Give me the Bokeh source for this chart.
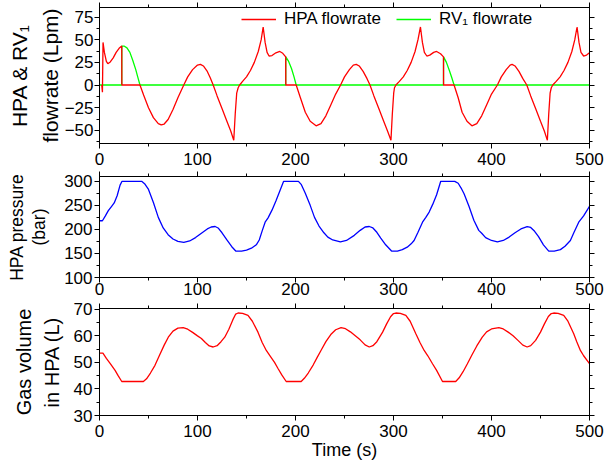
from bokeh.plotting import figure
from bokeh.models import (LinearAxis, Range1d, SingleIntervalTicker, Title,
                          Legend, LegendItem)
from bokeh.layouts import column
from bokeh.embed import file_html
from bokeh.resources import INLINE

# ---------------- data ----------------
x_ticks_interval = 100

# HPA flowrate (Lpm)
t_hpa = [
    2.3, 3.0, 3.6, 5, 7, 8.5, 11, 14, 17, 20,
    22.7, 22.8, 41.3, 45, 50, 55, 60, 63, 66, 70,
    75, 80, 86, 90, 95, 100, 103, 106, 110, 113,
    116, 120, 125, 130, 134, 137, 138.5, 140, 141.5, 143,
    146, 150, 154, 158, 162, 165, 167, 169, 171, 173,
    176, 180, 184, 187, 190, 190.1, 200.7, 205, 210, 215,
    221, 226, 231, 236, 241, 246, 250, 255, 259, 262,
    265, 269, 273, 276, 280, 285, 290, 294, 297.4, 298.8,
    300.2, 301, 302.5, 306, 310, 314, 318, 322, 325, 327.5,
    329.5, 331.5, 334, 337, 341, 344, 348, 351, 351.1, 361.8,
    366, 370, 375, 380, 385, 390, 395, 400, 406, 410,
    415, 419, 421, 424, 428, 432, 436, 440, 445, 450,
    454, 457, 458.4, 459.8, 461, 462.5, 466, 470, 474, 478,
    482, 485, 487.3, 489.3, 491.3, 494, 497, 500]
q_hpa = [
    0, -8, 47, 36, 26, 23.5, 25.5, 30, 36, 40.5,
    43, 0, 0, -11, -25, -36, -42.5, -44, -43, -38,
    -27, -14, 0, 9, 17, 22, 22.8, 21, 15, 8,
    0, -12, -26, -40, -51, -61, -32, -9, -3, 0,
    4, 9, 16, 25, 37, 50, 64, 47, 36, 32,
    32.5, 35.5, 37, 35, 31, 0, 0, -14, -30, -40,
    -45, -42.5, -34, -22, -10, 0, 9, 17, 22, 22.8,
    21, 15, 7, 0, -12, -26, -40, -51, -61, -32,
    -9, -3, 0, 4, 9, 16, 25, 37, 50, 64,
    47, 36, 32, 33, 36, 37, 34.5, 31, 0, 0,
    -14, -30, -40, -45, -42.5, -34, -22, -10, 0, 9,
    17, 22, 22.8, 21, 15, 7, 0, -12, -26, -40,
    -51, -61, -32, -9, -3, 0, 4, 9, 16, 25,
    37, 50, 64, 47, 36, 32, 33, 35.6]

# RV1 flowrate (Lpm)
t_rv = [0, 22.7, 22.8, 25, 28, 31, 34, 37, 39, 41.3,
        190, 190.1, 193, 196, 198.5, 200.7, 351, 351.1, 354, 357,
        359.5, 361.8, 500]
q_rv = [0, 0, 43, 43, 41, 36, 27, 17, 9, 0,
        0, 31, 26, 18, 9, 0, 0, 31, 25, 16,
        8, 0, 0]

# HPA pressure (bar)
t_p = [
    0, 3, 6, 9, 12, 15, 18, 21, 23, 43,
    46, 50, 55, 60, 65, 70, 75, 80, 86, 92,
    98, 104, 110, 114, 118, 121, 125, 130, 135, 139,
    145, 150, 155, 160, 163, 166, 169, 172, 176, 180,
    184, 187.9, 203, 206, 210, 215, 219.4, 224, 229, 233,
    238, 245.8, 252, 260, 266, 271, 275.3, 279, 283, 287,
    292, 298, 304, 309, 314, 318, 321, 325, 329.6, 333,
    336.4, 340, 344, 348.2, 362.5, 366, 369, 372, 377, 382,
    387, 390, 394, 400, 406, 412, 418, 424, 430, 436.4,
    440, 444, 448, 453, 458.4, 464, 470.3, 475, 480.5, 484,
    489, 494, 500]
p_hpa = [
    218, 218, 228, 239, 247, 255, 270, 292, 300, 300,
    295, 283, 256, 225, 203, 189, 180, 175, 173, 176,
    183, 192, 201, 205, 206, 203, 193, 178, 164, 155,
    155, 157, 161, 168, 178, 197, 215, 224, 240, 259,
    280, 300, 300, 293, 275, 250, 225, 207, 193, 184,
    178, 174, 177, 187.6, 198, 205, 206, 203, 194, 182,
    168, 155, 155, 158, 163, 170, 177, 194, 215, 225,
    236, 252, 272, 300, 300, 296, 286, 274, 248, 219,
    198, 192, 183, 177, 174, 177, 184, 193, 201, 206,
    204, 196, 185, 168, 155, 155, 158, 165, 177, 193,
    215, 228, 248]

# Gas volume in HPA (L)
t_v = [
    0, 3.5, 7, 11, 15.9, 19, 22.7, 44.8, 48, 52,
    56.6, 61, 66, 70.2, 75, 80, 85.4, 90, 95, 100,
    104, 108, 112, 116, 120, 124, 127.8, 132, 136, 139,
    141.4, 146, 151.5, 156, 161.7, 166, 170.2, 174, 178.6, 182,
    186, 190.5, 205.8, 209, 213, 218, 222, 226, 231, 236,
    241, 246.5, 251, 256, 261, 266, 271, 275.3, 279, 283,
    288.9, 293, 297, 300, 302.4, 307, 312.6, 317, 322.8, 327,
    331.3, 335, 339.8, 344, 350, 363.5, 367, 371, 375.4, 380,
    385, 390.6, 395, 400, 407.5, 412, 417, 422, 427, 432,
    436.4, 440, 445, 450, 454, 458, 461, 463.5, 468, 473.7,
    478, 483.9, 487, 490.7, 494, 500]
v_gas = [
    53.5, 53.5, 51.5, 49.5, 47, 45, 42.8, 42.8, 43.8, 46,
    48.9, 52.5, 56.5, 59.5, 61.8, 62.9, 63.1, 62.5, 61.3, 60,
    59, 57.5, 56.2, 55.8, 56.3, 57.8, 59.5, 62.5, 66, 68.2,
    68.6, 68.5, 67.7, 65.5, 61.4, 57.5, 54.5, 52.5, 50, 47.8,
    45.3, 42.8, 42.8, 44, 46, 49, 51.8, 54.5, 57.8, 60.5,
    62.3, 63.1, 62.7, 61.5, 60, 58.5, 56.6, 55.8, 56.3, 57.8,
    61.4, 64.5, 67.2, 68.4, 68.6, 68.5, 67.7, 65.5, 60.8, 57.5,
    54.5, 52.5, 49.5, 47, 42.8, 42.8, 44.2, 46.5, 49.5, 52.8,
    56.2, 59.5, 61.5, 62.6, 63.1, 62.6, 61.4, 60, 58.3, 56.5,
    55.8, 56.3, 58.3, 61.4, 64.5, 67.3, 68.4, 68.6, 68.5, 67.7,
    65.5, 60.8, 57.8, 54.5, 52.5, 49.5]

# ---------------- styling ----------------
FONT = "Liberation Sans"
W = 604
LEFT = 98
RIGHT = 15


def style(ax, labels=True):
    ax.axis_line_color = "black"
    ax.major_tick_line_color = "black"
    ax.minor_tick_line_color = "black"
    ax.major_tick_in = 0
    ax.major_tick_out = 5
    ax.minor_tick_in = 0
    ax.minor_tick_out = 3
    ax.major_label_text_font = FONT
    if labels:
        ax.major_label_text_font_size = "17px"
        ax.major_label_text_color = "black"
    else:
        ax.major_label_text_font_size = "1px"
        ax.major_label_text_color = None
        ax.major_label_standoff = 0
    ax.axis_label_text_font = FONT
    ax.axis_label_text_font_style = "normal"
    ax.axis_label_text_color = "black"


def panel(height, yr, yint, top, bottom, xstandoff, inner, outer, size,
          ystandoff, s_inner, s_outer, xlabel=None):
    p = figure(width=W, height=height, x_range=Range1d(0, 500),
               y_range=Range1d(*yr), x_axis_type=None, y_axis_type=None,
               output_backend="svg", toolbar_location=None, title=None,
               min_border_left=LEFT, min_border_right=RIGHT,
               min_border_top=top, min_border_bottom=bottom)
    p.outline_line_color = "black"
    p.background_fill_color = "white"
    p.border_fill_color = "white"
    xt = SingleIntervalTicker(interval=x_ticks_interval, num_minor_ticks=2)
    yt = SingleIntervalTicker(interval=yint, num_minor_ticks=2)
    b = LinearAxis(ticker=xt)
    style(b)
    b.major_label_standoff = xstandoff
    if xlabel:
        b.axis_label = xlabel
        b.axis_label_standoff = 0
        b.axis_label_text_font_size = "18px"
    p.add_layout(b, "below")
    a = LinearAxis(ticker=xt)
    style(a, labels=False)
    p.add_layout(a, "above")
    l = LinearAxis(ticker=yt, axis_label=inner)
    style(l)
    l.major_label_standoff = ystandoff
    l.axis_label_standoff = s_inner
    l.axis_label_text_font_size = size
    p.add_layout(l, "left")
    r = LinearAxis(ticker=yt)
    style(r, labels=False)
    p.add_layout(r, "right")
    p.add_layout(Title(text=outer, align="center", text_font=FONT,
                       text_font_size=size, text_font_style="normal",
                       text_color="black", standoff=s_outer), "left")
    return p


p1 = panel(171, (-64.5, 85.5), 25, 7, 28, 4,
           "flowrate (Lpm)", "HPA & RV\u2081", "21px", 1, 0, 10)
r_rv = p1.line(t_rv, q_rv, line_color="#00ff00", line_width=1.3)
r_hpa = p1.line(t_hpa, q_hpa, line_color="#ff0000", line_width=1.3)
leg = Legend(items=[LegendItem(label="HPA flowrate", renderers=[r_hpa]),
                    LegendItem(label="RV\u2081 flowrate", renderers=[r_rv])],
             orientation="horizontal", location=(142, 114),
             border_line_color=None, background_fill_alpha=0,
             label_text_font=FONT, label_text_font_size="17px",
             label_text_color="black", glyph_width=35, glyph_height=20,
             label_height=20, label_standoff=8, spacing=15, padding=0,
             margin=0)
p1.add_layout(leg, "center")

p2 = panel(130, (100, 310), 50, 5, 24, 0,
           "(bar)", "HPA pressure", "17.5px", 2, 12, 0)
p2.line(t_p, p_hpa, line_color="#0000ff", line_width=1.3)

p3 = panel(166, (30, 70.3), 10, 7, 52, 4,
           "in HPA (L)", "Gas volume", "20px", 2, 8, 5, xlabel="Time (s)")
p3.line(t_v, v_gas, line_color="#ff0000", line_width=1.3)

layout = column(p1, p2, p3)
open("out.html", "w").write(file_html(layout, INLINE))
